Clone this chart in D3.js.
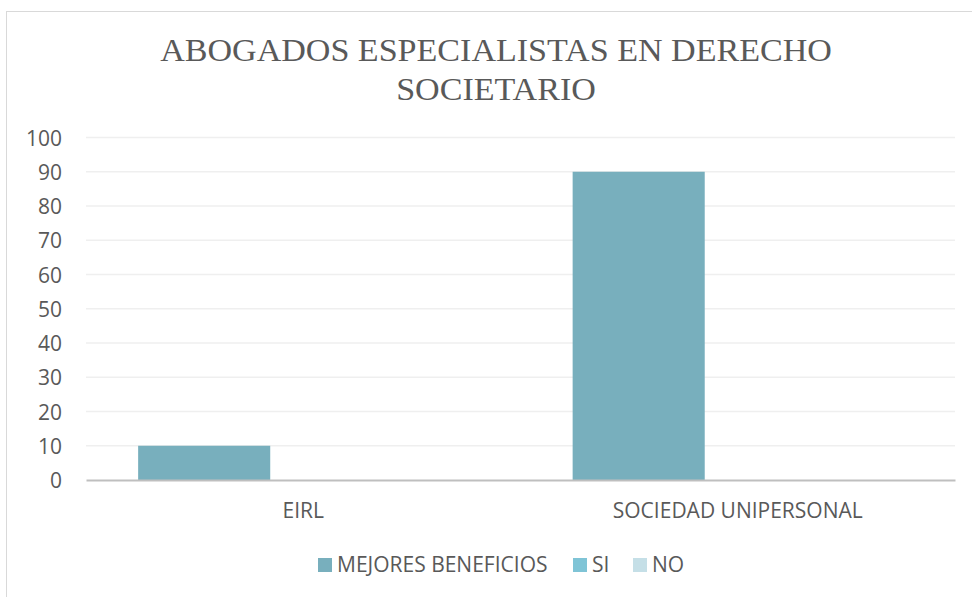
<!DOCTYPE html>
<html>
<head>
<meta charset="utf-8">
<script src="https://cdn.jsdelivr.net/npm/d3@7/dist/d3.min.js"></script>
<style>
  body { margin: 0; background: #fff; }
  text { fill: #595959; }
</style>
</head>
<body>
<svg id="chart" width="972" height="597"></svg>
<script>
var titleLines = ["ABOGADOS ESPECIALISTAS EN DERECHO", "SOCIETARIO"];
var categories = ["EIRL", "SOCIEDAD UNIPERSONAL"];
var seriesNames = ["MEJORES BENEFICIOS", "SI", "NO"];
var mejoresValues = [10, 90];
var siValues = [0, 0];
var noValues = [0, 0];
var yTicks = [0, 10, 20, 30, 40, 50, 60, 70, 80, 90, 100];
var seriesColors = ["#78afbd", "#7fc4d6", "#c5dfe7"];

var svg = d3.select("#chart");
var plotLeft = 86, plotRight = 955, plotTop = 137.5, plotBottom = 480;
var labelFont = "'Open Sans', sans-serif";

// chart frame (runs off the picture on the right and bottom)
svg.append("rect")
    .attr("x", 6.5).attr("y", 11.5)
    .attr("width", 1000).attr("height", 700)
    .attr("fill", "#fff")
    .attr("stroke", "#d9d9d9");

// title, slightly condensed like the original
var tg = svg.append("g");
var t1 = tg.append("text")
    .attr("x", 0).attr("y", 0)
    .attr("text-anchor", "middle")
    .style("font-family", "'Liberation Serif', 'Times New Roman', serif")
    .style("font-size", "32px")
    .text(titleLines[0]);
tg.append("text")
    .attr("x", 0).attr("y", 39)
    .attr("text-anchor", "middle")
    .style("font-family", "'Liberation Serif', 'Times New Roman', serif")
    .style("font-size", "32px")
    .text(titleLines[1]);
var sx = 672 / t1.node().getComputedTextLength();
tg.attr("transform", "translate(496,61) scale(" + sx + ",1)");

var y = d3.scaleLinear().domain([0, 100]).range([plotBottom, plotTop]);
var x = d3.scaleBand().domain(categories).range([plotLeft, plotRight]).padding(0);

// gridlines
svg.append("g")
  .selectAll("line")
    .data(yTicks.filter(function(d) { return d > 0; }))
  .enter().append("line")
    .attr("x1", plotLeft).attr("x2", plotRight)
    .attr("y1", function(d) { return y(d); })
    .attr("y2", function(d) { return y(d); })
    .attr("stroke", "#efefef")
    .attr("stroke-width", 1.5);

// y axis labels
var yAxis = d3.axisLeft(y).tickValues(yTicks).tickSize(0).tickPadding(0);
var yg = svg.append("g")
    .attr("transform", "translate(62,0)")
    .call(yAxis);
yg.select(".domain").remove();
yg.selectAll("text")
    .attr("dy", "0.36em")
    .style("font-family", labelFont)
    .style("font-size", "21px")
    .attr("fill", "#595959");

// bars
var bw = x.bandwidth();
var barWidth = bw * 0.304;
var offset = d3.scalePoint().domain(seriesNames).range([-bw * 0.228, bw * 0.228]);
var allValues = [mejoresValues, siValues, noValues];
var rows = [];
seriesNames.forEach(function(s, si) {
  categories.forEach(function(c, ci) {
    rows.push({ series: s, cat: c, value: allValues[si][ci], color: seriesColors[si] });
  });
});
svg.append("g")
  .selectAll("rect")
    .data(rows.filter(function(d) { return d.value > 0; }))
  .enter().append("rect")
    .attr("x", function(d) { return x(d.cat) + bw / 2 + offset(d.series) - barWidth / 2; })
    .attr("y", function(d) { return y(d.value); })
    .attr("width", barWidth)
    .attr("height", function(d) { return y(0) - y(d.value); })
    .attr("fill", function(d) { return d.color; });

// x axis
var xAxis = d3.axisBottom(x).tickSize(0).tickPadding(0);
var xg = svg.append("g")
    .attr("transform", "translate(0," + plotBottom + ")")
    .call(xAxis);
xg.select(".domain").attr("stroke", "#bfbfbf").attr("stroke-width", 2.2);
xg.selectAll("text")
    .attr("dy", null)
    .attr("y", 38)
    .style("font-family", labelFont)
    .style("font-size", "21px")
    .attr("fill", "#595959");

// legend
var legendX = [318, 573, 633];
var lg = svg.append("g").selectAll("g")
    .data(seriesNames)
  .enter().append("g")
    .attr("transform", function(d, i) { return "translate(" + legendX[i] + ",558)"; });
lg.append("rect")
    .attr("width", 14).attr("height", 14)
    .attr("fill", function(d, i) { return seriesColors[i]; });
lg.append("text")
    .attr("x", 19).attr("y", 14)
    .style("font-family", labelFont)
    .style("font-size", "21px")
    .text(function(d) { return d; });
</script>
</body>
</html>
